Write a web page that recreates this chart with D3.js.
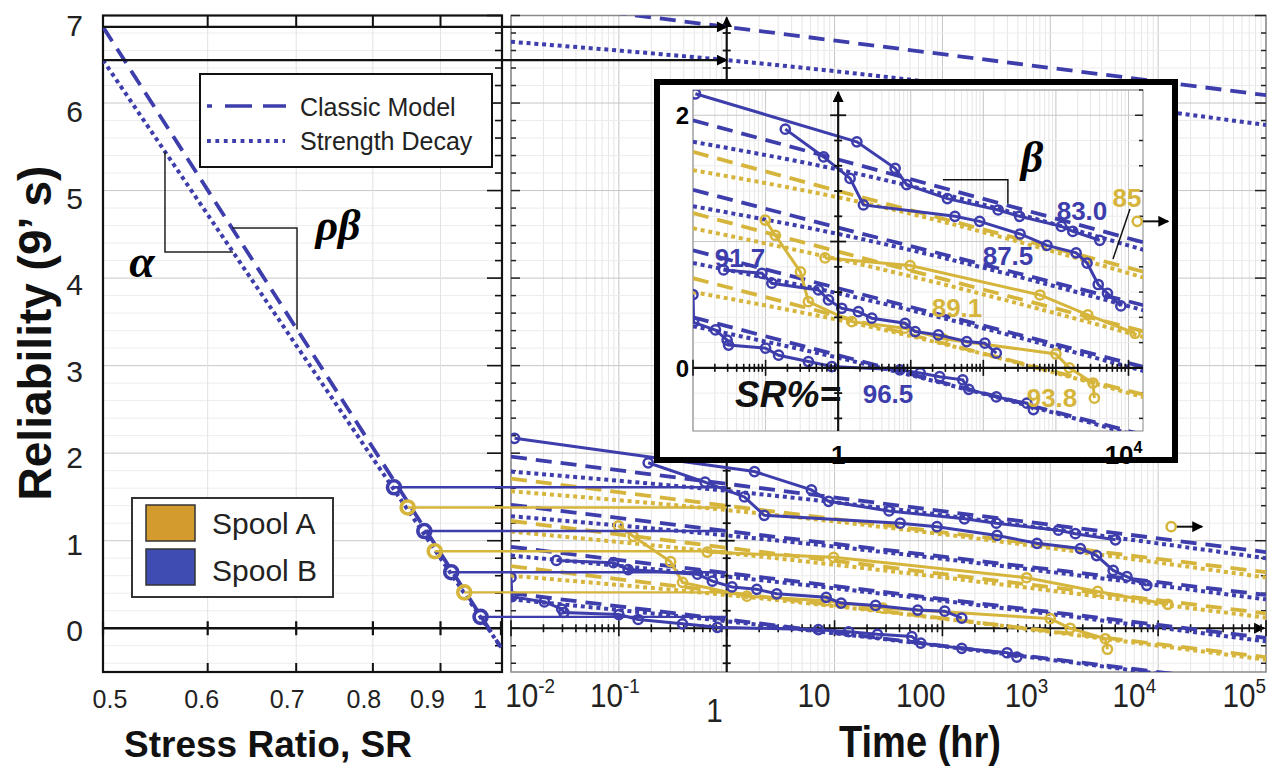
<!DOCTYPE html>
<html><head><meta charset="utf-8">
<script src="https://cdn.jsdelivr.net/npm/d3@7"></script>
<style>
body{margin:0;background:#fff}
svg{display:block;font-family:"Liberation Sans",Arial,Helvetica,sans-serif}
</style></head><body>
<svg id="chart" width="1280" height="771"></svg>
<script>
// ---------- axis ticks ----------
const srTicks = [0.5, 0.6, 0.7, 0.8, 0.9, 1];
const srTickLabels = ["0.5", "0.6", "0.7", "0.8", "0.9", "1"];
const relTicks = [0, 1, 2, 3, 4, 5, 6, 7];
const timeTicks = [1e-2, 1e-1, 1, 10, 100, 1e3, 1e4, 1e5];
const timeTickBase = ["10", "10", "1", "10", "100", "10", "10", "10"];
const timeTickSup = ["-2", "-1", "", "", "", "3", "4", "5"];

// ---------- reliability vs stress ratio at 1 hr (model lines, left panel) ----------
const modelSR = [0.5, 1.0];
const classicVsSR = [6.87, -0.22];
const decayVsSR = [6.49, -0.22];

// ---------- stress levels (SR %) ----------
const levelSR = [83.0, 85, 87.5, 89.1, 91.7, 93.8, 96.5];
const levelText = ["83.0", "85", "87.5", "89.1", "91.7", "93.8", "96.5"];
const levelSpool = ["B", "A", "B", "A", "B", "A", "B"];
const levelR1 = [1.61, 1.38, 1.11, 0.88, 0.64, 0.41, 0.13];

// ---------- model lines vs time (first entry: SR = 50 %) ----------
const modelSpool = ["B", "B", "A", "B", "A", "B", "A", "B"];
const modelTimes = [0.01, 1, 1e5];
const classicAt001 = [7.18, 1.96, 1.71, 1.41, 1.225, 0.93, 0.71, 0.40];
const classicAt1   = [6.87, 1.65, 1.40, 1.11, 0.92, 0.63, 0.41, 0.10];
const classicAt1e5 = [6.09, 0.87, 0.64, 0.38, 0.17, -0.11, -0.33, -0.65];
const decayAt001   = [6.70, 1.79, 1.565, 1.28, 1.105, 0.83, 0.60, 0.33];
const decayAt1     = [6.49, 1.57, 1.35, 1.06, 0.86, 0.59, 0.38, 0.08];
const decayAt1e5   = [5.75, 0.80, 0.58, 0.33, 0.12, -0.15, -0.36, -0.68];

// ---------- measured specimens (time in hr, reliability in 9's) ----------
const specB830a_t = [0.0108, 1.81, 6.1, 8.8, 32, 160, 316, 1190, 1710, 4020];
const specB830a_r = [2.17, 1.79, 1.58, 1.45, 1.34, 1.25, 1.20, 1.12, 1.08, 1.01];
const specB830b_t = [0.187, 0.63, 1.46, 2.23, 40.6, 89, 321, 753, 1900, 2690, 3830, 5130, 7850];
const specB830b_r = [1.89, 1.67, 1.50, 1.29, 1.20, 1.16, 1.06, 0.97, 0.91, 0.83, 0.66, 0.59, 0.49];
const specB917_t = [0.0264, 0.0891, 0.122, 0.536, 0.736, 1.12, 1.90, 2.91, 8.36, 11.5, 24, 59, 105, 151];
const specB917_r = [0.775, 0.749, 0.67, 0.617, 0.538, 0.472, 0.445, 0.393, 0.353, 0.287, 0.261, 0.208, 0.195, 0.116];
const specB965_t = [0.01, 0.0102, 0.0204, 0.0295, 0.0309, 0.1, 0.151, 0.389, 0.818, 7.08, 13.5, 25, 52, 63, 151, 398, 490];
const specB965_r = [0.58, 0.36, 0.30, 0.22, 0.18, 0.156, 0.10, 0.05, 0.01, -0.016, -0.04, -0.07, -0.095, -0.17, -0.23, -0.28, -0.33];
const specA938_t = [0.099, 0.136, 0.302, 0.389, 1.54, 8.32, 28, 1000, 1530, 3240, 3390];
const specA938_r = [1.17, 1.05, 0.76, 0.524, 0.366, 0.314, 0.23, 0.11, 0.0, -0.12, -0.24];
const specA891_t = [0.66, 9.8, 603, 2750, 12300];
const specA891_r = [0.87, 0.81, 0.577, 0.42, 0.274];
const runoutA850_t = [13200];
const runoutA850_r = [1.16];

// ---------- colours ----------
const BLUE = "#3d3dac";
const GOLD = "#d6b53c";
const spoolColor = s => (s === "A" ? GOLD : BLUE);

const svg = d3.select("#chart");
const defs = svg.append("defs");
defs.append("marker").attr("id", "arrowBlack").attr("viewBox", "0 0 10 10")
  .attr("refX", 9).attr("refY", 5).attr("markerWidth", 11).attr("markerHeight", 11)
  .attr("markerUnits", "userSpaceOnUse").attr("orient", "auto")
  .append("path").attr("d", "M0,0L10,5L0,10z").attr("fill", "#000");
function addClip(id, x, y, w, h) {
  defs.append("clipPath").attr("id", id).append("rect")
    .attr("x", x).attr("y", y).attr("width", w).attr("height", h);
}

// ---------- scales ----------
const xSR = d3.scaleLog().domain([0.5, 1]).range([103, 501]);
const yR = d3.scaleLinear().domain([-0.5, 7]).range([672, 15.5]);
const xT = d3.scaleLog().domain([1e-2, 1e5]).range([511, 1266]);
const xI = d3.scaleLog().domain([1e-2, Math.pow(10, 4.2)]).range([693, 1143]);
const yI = d3.scaleLinear().domain([-0.5, 2.2]).range([431, 90]);
// tick-label column for reliability axis
const yLabel = d3.scaleLinear().domain([0, 7]).range([630, 25]);

function rSteps(lo, hi) {
  const a = [];
  for (let i = Math.ceil(lo * 5 - 1e-6); i <= Math.floor(hi * 5 + 1e-6); i++) a.push(i / 5);
  return a;
}
const isInt = v => Math.abs(v - Math.round(v)) < 1e-6;
function logMinor(scale) {
  const [t0, t1] = scale.domain();
  const out = [];
  for (let e = Math.floor(Math.log10(t0)); e < Math.ceil(Math.log10(t1)); e++)
    for (let k = 1; k < 10; k++) {
      const v = k * Math.pow(10, e);
      if (v >= t0 * 0.999 && v <= t1 * 1.001) out.push({ v, major: k === 1 });
    }
  if (isInt(Math.log10(t1))) out.push({ v: t1, major: true });
  return out;
}
function interpSR(ends, sr) {
  const f = (Math.log(sr) - Math.log(modelSR[0])) / (Math.log(modelSR[1]) - Math.log(modelSR[0]));
  return ends[0] + f * (ends[1] - ends[0]);
}

// ================= LEFT PANEL =================
const L = { x0: 103, x1: 502, y0: 15.5, y1: 672 };
const left = svg.append("g");
rSteps(-0.4, 7).forEach(v => {
  left.append("line").attr("x1", L.x0).attr("x2", L.x1).attr("y1", yR(v)).attr("y2", yR(v))
    .attr("stroke", isInt(v) ? "#c9c9c9" : "#ededed").attr("stroke-width", 1);
});
srTicks.slice(1, 5).forEach(v => {
  left.append("line").attr("x1", xSR(v)).attr("x2", xSR(v)).attr("y1", L.y0).attr("y2", L.y1)
    .attr("stroke", "#e2e2e2").attr("stroke-width", 1);
});
left.append("rect").attr("x", L.x0).attr("y", L.y0).attr("width", L.x1 - L.x0).attr("height", L.y1 - L.y0)
  .attr("fill", "none").attr("stroke", "#111").attr("stroke-width", 2.2);
rSteps(-0.4, 7).forEach(v => {
  left.append("line").attr("x1", L.x1).attr("x2", L.x1 - (isInt(v) ? 15 : 7)).attr("y1", yR(v)).attr("y2", yR(v))
    .attr("stroke", "#111").attr("stroke-width", 1.6);
});
srTicks.slice(1, 5).forEach(v => {
  left.append("line").attr("x1", xSR(v)).attr("x2", xSR(v)).attr("y1", L.y0).attr("y2", L.y0 + 12).attr("stroke", "#111").attr("stroke-width", 2);
  left.append("line").attr("x1", xSR(v)).attr("x2", xSR(v)).attr("y1", L.y1).attr("y2", L.y1 - 9).attr("stroke", "#111").attr("stroke-width", 2);
});
left.append("line").attr("x1", L.x0).attr("x2", L.x1).attr("y1", yR(0)).attr("y2", yR(0)).attr("stroke", "#111").attr("stroke-width", 2.6);
srTicks.forEach(v => {
  left.append("line").attr("x1", xSR(v)).attr("x2", xSR(v)).attr("y1", yR(0) - 7).attr("y2", yR(0) + 7).attr("stroke", "#111").attr("stroke-width", 2.2);
});
const srLabelShift = [7, -6, -9, -9, -13, -21];
srTicks.forEach((v, i) => {
  svg.append("text").attr("x", xSR(v) + srLabelShift[i]).attr("y", 708).attr("text-anchor", "middle")
    .attr("font-size", 25).attr("fill", "#222").text(srTickLabels[i]);
});
relTicks.forEach(v => {
  svg.append("text").attr("x", 83).attr("y", yLabel(v) + 11).attr("text-anchor", "end")
    .attr("font-size", 30).attr("fill", "#222").text(v);
});

addClip("clipLeft", L.x0, L.y0, L.x1 - L.x0, L.y1 - L.y0);
const leftData = svg.append("g").attr("clip-path", "url(#clipLeft)");
const srLine = d3.line().x(d => xSR(d[0])).y(d => yR(d[1]));
leftData.append("path").attr("d", srLine(modelSR.map((s, i) => [s, classicVsSR[i]])))
  .attr("fill", "none").attr("stroke", BLUE).attr("stroke-width", 3.8).attr("stroke-dasharray", "17,9");
leftData.append("path").attr("d", srLine(modelSR.map((s, i) => [s, decayVsSR[i]])))
  .attr("fill", "none").attr("stroke", BLUE).attr("stroke-width", 4).attr("stroke-dasharray", "4,3.8");

// ================= RIGHT PANEL =================
const P = { x0: 511, x1: 1266, y0: 15.5, y1: 672 };
function drawLogGrid(g, xs, ys, box) {
  logMinor(xs).forEach(d => {
    g.append("line").attr("x1", xs(d.v)).attr("x2", xs(d.v)).attr("y1", box.y0).attr("y2", box.y1)
      .attr("stroke", d.major ? "#c6c6c6" : "#e6e6e6").attr("stroke-width", 1);
  });
  rSteps(ys.domain()[0], ys.domain()[1]).forEach(v => {
    g.append("line").attr("x1", box.x0).attr("x2", box.x1).attr("y1", ys(v)).attr("y2", ys(v))
      .attr("stroke", isInt(v) ? "#c6c6c6" : "#ececec").attr("stroke-width", 1);
  });
}
const right = svg.append("g");
drawLogGrid(right, xT, yR, P);
right.append("rect").attr("x", P.x0).attr("y", P.y0).attr("width", P.x1 - P.x0).attr("height", P.y1 - P.y0)
  .attr("fill", "none").attr("stroke", "#8a8a8a").attr("stroke-width", 1.5);
rSteps(-0.4, 7).forEach(v => {
  right.append("line").attr("x1", P.x0).attr("x2", P.x0 + (isInt(v) ? 9 : 5)).attr("y1", yR(v)).attr("y2", yR(v)).attr("stroke", "#222").attr("stroke-width", 1.5);
  right.append("line").attr("x1", P.x1).attr("x2", P.x1 - (isInt(v) ? 11 : 5)).attr("y1", yR(v)).attr("y2", yR(v)).attr("stroke", "#222").attr("stroke-width", 1.5);
});

function drawCrossAxes(g, xs, ys, box, arrowRight) {
  g.append("line").attr("x1", xs(1)).attr("x2", xs(1)).attr("y1", box.y1).attr("y2", box.y0 + 2)
    .attr("stroke", "#111").attr("stroke-width", 2.2).attr("marker-end", "url(#arrowBlack)");
  rSteps(ys.domain()[0], ys.domain()[1] - 0.1).forEach(v => {
    const h = isInt(v) ? 8 : 4;
    g.append("line").attr("x1", xs(1) - h).attr("x2", xs(1) + h).attr("y1", ys(v)).attr("y2", ys(v)).attr("stroke", "#111").attr("stroke-width", 1.8);
  });
  const ax = g.append("line").attr("x1", box.x0).attr("x2", box.x1 - (arrowRight ? 2 : 0)).attr("y1", ys(0)).attr("y2", ys(0))
    .attr("stroke", "#111").attr("stroke-width", 2.2);
  if (arrowRight) ax.attr("marker-end", "url(#arrowBlack)");
  logMinor(xs).forEach(d => {
    const h = d.major ? 8 : 4;
    g.append("line").attr("x1", xs(d.v)).attr("x2", xs(d.v)).attr("y1", ys(0) - h).attr("y2", ys(0) + h).attr("stroke", "#111").attr("stroke-width", 1.6);
  });
}

// series drawing shared by the main panel and the zoomed inset
function drawSeries(g, xs, ys) {
  const classicBy = [classicAt001, classicAt1, classicAt1e5];
  const decayBy = [decayAt001, decayAt1, decayAt1e5];
  const lineT = d3.line().x(d => xs(d[0])).y(d => ys(d[1]));
  const curveT = d3.line().x(d => xs(d[0])).y(d => ys(d[1])).curve(d3.curveMonotoneX);
  modelSpool.forEach((s, i) => {
    const col = spoolColor(s);
    g.append("path").attr("d", lineT(modelTimes.map((t, j) => [t, classicBy[j][i]])))
      .attr("fill", "none").attr("stroke", col).attr("stroke-width", 3.8).attr("stroke-dasharray", "16,9");
    g.append("path").attr("d", curveT(modelTimes.map((t, j) => [t, decayBy[j][i]])))
      .attr("fill", "none").attr("stroke", col).attr("stroke-width", 4).attr("stroke-dasharray", "4,3.8");
  });
  const specimens = [
    [specA891_t, specA891_r, "A"], [specA938_t, specA938_r, "A"],
    [specB830a_t, specB830a_r, "B"], [specB830b_t, specB830b_r, "B"],
    [specB917_t, specB917_r, "B"], [specB965_t, specB965_r, "B"]
  ];
  specimens.forEach(([ts, rs, s]) => {
    const pts = ts.map((t, k) => [t, rs[k]]);
    const col = spoolColor(s);
    g.append("path").attr("d", lineT(pts)).attr("fill", "none").attr("stroke", col).attr("stroke-width", 3);
    g.selectAll(null).data(pts).join("circle")
      .attr("cx", d => xs(d[0])).attr("cy", d => ys(d[1])).attr("r", 4.6)
      .attr("fill", "none").attr("stroke", col).attr("stroke-width", 2.5);
  });
}
function drawRunout(g, xs, ys) {
  runoutA850_t.forEach((t, k) => {
    const cx = xs(t), cy = ys(runoutA850_r[k]);
    g.append("line").attr("x1", cx + 5).attr("x2", cx + 31).attr("y1", cy).attr("y2", cy)
      .attr("stroke", "#111").attr("stroke-width", 2).attr("marker-end", "url(#arrowBlack)");
    g.append("circle").attr("cx", cx).attr("cy", cy).attr("r", 4.6).attr("fill", "none")
      .attr("stroke", GOLD).attr("stroke-width", 2.5);
  });
}

addClip("clipRight", P.x0, P.y0, P.x1 - P.x0, P.y1 - P.y0);
const rightData = svg.append("g").attr("clip-path", "url(#clipRight)");
drawSeries(rightData, xT, yR);
drawCrossAxes(right, xT, yR, P, true);
drawRunout(svg, xT, yR);

// horizontal guides from stress ratio to 1 hr
levelSR.forEach((sr, i) => {
  svg.append("line").attr("x1", xSR(sr / 100)).attr("x2", xT(1)).attr("y1", yR(levelR1[i])).attr("y2", yR(levelR1[i]))
    .attr("stroke", spoolColor(levelSpool[i])).attr("stroke-width", 2.4);
});
levelSR.forEach((sr, i) => {
  svg.append("circle").attr("cx", xSR(sr / 100)).attr("cy", yR(levelR1[i])).attr("r", 6.5)
    .attr("fill", "none").attr("stroke", spoolColor(levelSpool[i])).attr("stroke-width", 3.6);
});
// arrows carrying the SR = 50 % model values to 1 hr
[classicVsSR[0], decayVsSR[0]].forEach(r => {
  svg.append("line").attr("x1", xSR(0.5)).attr("x2", xT(1)).attr("y1", yR(r)).attr("y2", yR(r))
    .attr("stroke", "#111").attr("stroke-width", 2.2).attr("marker-end", "url(#arrowBlack)");
});

const timeLabelShift = [44, 21, -4, -4, 3, -2, -2, 0];
const timeLabelDrop = [0, 0, 15, 0, 0, 0, 0, 0];
timeTicks.forEach((t, i) => {
  const g = svg.append("g").attr("transform", `translate(${xT(t) + timeLabelShift[i]},${707 + timeLabelDrop[i]}) scale(0.9,1)`);
  const tx = g.append("text").attr("text-anchor", "end").attr("font-size", 33).attr("fill", "#222");
  tx.append("tspan").text(timeTickBase[i]);
  if (timeTickSup[i]) tx.append("tspan").attr("dy", -14).attr("font-size", 21).text(timeTickSup[i]);
});

// ================= INSET =================
const I = { x0: 693, x1: 1143, y0: 90, y1: 431 };
const inset = svg.append("g");
inset.append("rect").attr("x", 657).attr("y", 82).attr("width", 518).attr("height", 378).attr("fill", "#fff");
drawLogGrid(inset, xI, yI, I);
inset.append("rect").attr("x", I.x0).attr("y", I.y0).attr("width", I.x1 - I.x0).attr("height", I.y1 - I.y0)
  .attr("fill", "none").attr("stroke", "#9a9a9a").attr("stroke-width", 1.2);
rSteps(-0.4, 2.2).forEach(v => {
  inset.append("line").attr("x1", I.x1).attr("x2", I.x1 - (isInt(v) ? 8 : 4)).attr("y1", yI(v)).attr("y2", yI(v)).attr("stroke", "#222").attr("stroke-width", 1.5);
});
addClip("clipInset", I.x0, I.y0, I.x1 - I.x0, I.y1 - I.y0);
const insetData = inset.append("g").attr("clip-path", "url(#clipInset)");
drawSeries(insetData, xI, yI);
drawCrossAxes(inset, xI, yI, I, false);
drawRunout(inset, xI, yI);

inset.append("text").attr("x", 689).attr("y", yI(2) + 9).attr("text-anchor", "end").attr("font-size", 24).attr("font-weight", "bold").text("2");
inset.append("text").attr("x", 689).attr("y", yI(0) + 9).attr("text-anchor", "end").attr("font-size", 24).attr("font-weight", "bold").text("0");
inset.append("text").attr("x", xI(1)).attr("y", 464).attr("text-anchor", "middle").attr("font-size", 26).attr("font-weight", "bold").text("1");
{
  const t4 = inset.append("text").attr("x", xI(1e4) + 14).attr("y", 464).attr("text-anchor", "end").attr("font-size", 26).attr("font-weight", "bold");
  t4.append("tspan").text("10");
  t4.append("tspan").attr("dy", -11).attr("font-size", 16).text("4");
}

const levelLabelX = [1082, 1127, 1008, 957, 740, 1052, 888];
const levelLabelY = [220, 207, 265, 317, 267, 407, 403];
levelText.forEach((s, i) => {
  inset.append("text").attr("x", levelLabelX[i]).attr("y", levelLabelY[i]).attr("text-anchor", "middle")
    .attr("font-size", 26).attr("font-weight", "bold").attr("fill", spoolColor(levelSpool[i])).text(s);
});
inset.append("text").attr("x", 788).attr("y", 407).attr("text-anchor", "middle").attr("font-size", 37)
  .attr("font-weight", "bold").attr("font-style", "italic").attr("fill", "#111").text("SR%=");
inset.append("line").attr("x1", 1130).attr("y1", 209).attr("x2", 1113).attr("y2", 259).attr("stroke", "#111").attr("stroke-width", 1.5);
const betaPts = [[27.8, 1.49], [218, 1.49], [218, 1.30]];
inset.append("path").attr("d", d3.line().x(d => xI(d[0])).y(d => yI(d[1]))(betaPts))
  .attr("fill", "none").attr("stroke", "#111").attr("stroke-width", 1.5);
inset.append("text").attr("x", 1032).attr("y", 172).attr("text-anchor", "middle").attr("font-size", 44)
  .attr("font-weight", "bold").attr("font-style", "italic").attr("font-family", "'Liberation Serif','DejaVu Serif',serif").text("β");
inset.append("rect").attr("x", 657).attr("y", 82).attr("width", 518).attr("height", 378)
  .attr("fill", "none").attr("stroke", "#000").attr("stroke-width", 6);

// ================= LEFT ANNOTATIONS =================
const alphaSR = [0.557, 0.627];
const alphaPts = [[alphaSR[0], interpSR(decayVsSR, alphaSR[0])], [alphaSR[0], interpSR(decayVsSR, alphaSR[1])], [alphaSR[1], interpSR(decayVsSR, alphaSR[1])]];
const rhoSR = [0.626, 0.701];
const rhoPts = [[rhoSR[0], interpSR(classicVsSR, rhoSR[0])], [rhoSR[1], interpSR(classicVsSR, rhoSR[0])], [rhoSR[1], interpSR(classicVsSR, rhoSR[1])]];
[alphaPts, rhoPts].forEach(pts => {
  svg.append("path").attr("d", srLine(pts)).attr("fill", "none").attr("stroke", "#222").attr("stroke-width", 1.5);
});
svg.append("text").attr("x", 142).attr("y", 277).attr("text-anchor", "middle").attr("font-size", 46)
  .attr("font-weight", "bold").attr("font-style", "italic").attr("font-family", "'Liberation Serif','DejaVu Serif',serif").text("α");
svg.append("text").attr("x", 338).attr("y", 240).attr("text-anchor", "middle").attr("font-size", 44)
  .attr("font-weight", "bold").attr("font-style", "italic").attr("font-family", "'Liberation Serif','DejaVu Serif',serif").text("ρβ");

// ================= LEGENDS =================
const lg = svg.append("g");
lg.append("rect").attr("x", 200).attr("y", 74).attr("width", 292).attr("height", 93).attr("fill", "#fff").attr("stroke", "#111").attr("stroke-width", 2);
lg.append("line").attr("x1", 207).attr("x2", 286).attr("y1", 106).attr("y2", 106).attr("stroke", BLUE).attr("stroke-width", 3.6).attr("stroke-dasharray", "5,13,27,11,25");
lg.append("line").attr("x1", 207).attr("x2", 285).attr("y1", 141).attr("y2", 141).attr("stroke", BLUE).attr("stroke-width", 3.8).attr("stroke-dasharray", "3.8,4.6");
lg.append("text").attr("x", 300).attr("y", 116).attr("font-size", 25).attr("fill", "#222").text("Classic Model");
lg.append("text").attr("x", 300).attr("y", 150).attr("font-size", 25).attr("fill", "#222").text("Strength Decay");

const spoolNames = ["Spool A", "Spool B"];
const spoolFill = ["#d39a2d", "#3f4cb2"];
const sg = svg.append("g");
sg.append("rect").attr("x", 132).attr("y", 498).attr("width", 201).attr("height", 99).attr("fill", "#fff").attr("stroke", "#333").attr("stroke-width", 2);
spoolNames.forEach((n, i) => {
  sg.append("rect").attr("x", 146).attr("y", 505 + i * 44).attr("width", 49).attr("height", 36)
    .attr("fill", spoolFill[i]).attr("stroke", "#333").attr("stroke-width", 1.5);
  sg.append("text").attr("x", 212).attr("y", 534 + i * 47).attr("font-size", 30).attr("fill", "#222").text(n);
});

// ================= AXIS TITLES =================
svg.append("text").attr("transform", "translate(51,333) rotate(-90)").attr("text-anchor", "middle")
  .attr("font-size", 46).attr("font-weight", "bold").attr("fill", "#111").text("Reliability  (9’ s)");
svg.append("text").attr("x", 268).attr("y", 757).attr("text-anchor", "middle")
  .attr("font-size", 37).attr("font-weight", "bold").attr("fill", "#111").text("Stress Ratio, SR");
svg.append("text").attr("x", 920).attr("y", 757).attr("text-anchor", "middle")
  .attr("font-size", 45).attr("font-weight", "bold").attr("fill", "#111")
  .attr("textLength", 162).attr("lengthAdjust", "spacingAndGlyphs").text("Time (hr)");
</script>
</body></html>
